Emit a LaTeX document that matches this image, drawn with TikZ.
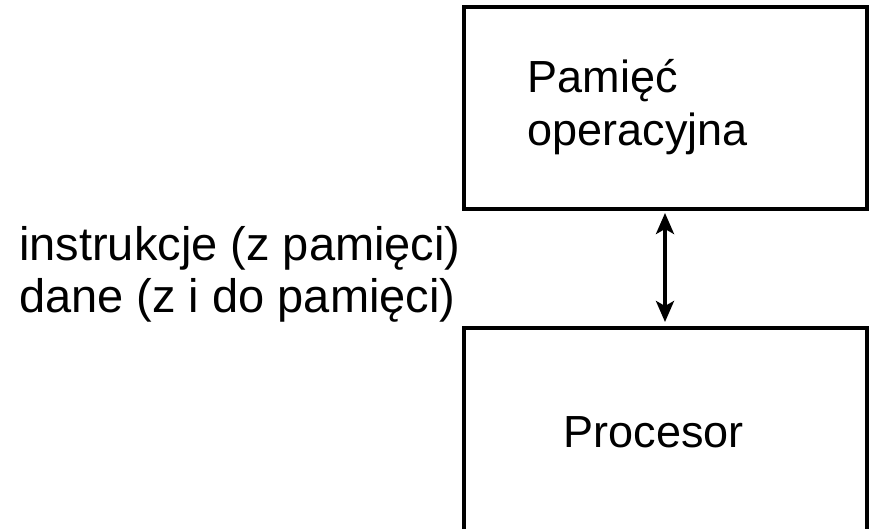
\documentclass[tikz,border=0pt]{standalone}
\usepackage{fontspec}
\setmainfont{Liberation Sans}
\usetikzlibrary{arrows.meta}

\tikzset{
  unitbox/.style={draw=black, line width=4pt, minimum width=403pt, inner sep=0pt},
  boxtext/.style={inner sep=0pt, align=left, anchor=base west,
                  font=\fontsize{45}{53}\selectfont},
  sidetext/.style={inner sep=0pt, align=left, anchor=base west,
                   font=\fontsize{47}{52}\selectfont},
  bustip/.tip={Stealth[length=21pt,width=18pt,inset=5pt]},
  biarrow/.style={line width=3.5pt, {bustip}-{bustip},
                  shorten <=2pt, shorten >=4pt}
}

\begin{document}
\begin{tikzpicture}[x=1pt, y=-1pt]
  \useasboundingbox (0,0) rectangle (874,529);
  \clip (0,0) rectangle (874,529);

  % the two units
  \node[unitbox, minimum height=202pt] (mem) at (665,108) {};
  \node[unitbox, minimum height=204pt] (cpu) at (665,430) {};

  % their labels (anchored on the baseline of the last line)
  \node[boxtext] (memlabel) at (527.5,146) {Pamięć\\operacyjna};
  \node[boxtext] (cpulabel) at (563.5,447) {Procesor};

  % what travels between them
  \node[sidetext] (traffic) at (19,312) {instrukcje (z pamięci)\\dane (z i do pamięci)};

  % two-way bus
  \draw[biarrow] (mem.south) -- (cpu.north);
\end{tikzpicture}
\end{document}
